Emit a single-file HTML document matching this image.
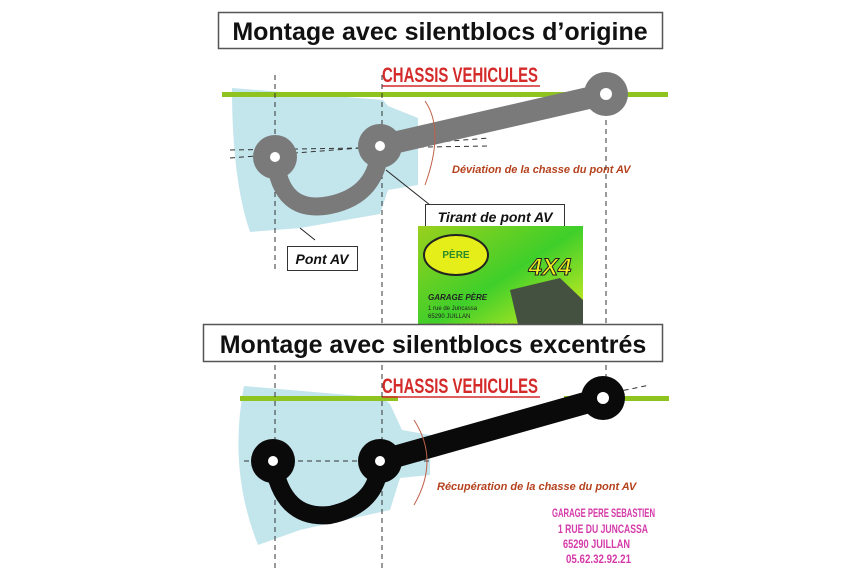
<!DOCTYPE html>
<html><head><meta charset="utf-8"><style>
html,body{margin:0;padding:0;background:#fff}
svg{display:block}
text{font-family:"Liberation Sans",sans-serif}
</style></head><body>
<svg width="860" height="570" viewBox="0 0 860 570" xmlns="http://www.w3.org/2000/svg">
<defs>
<linearGradient id="ad" x1="0" y1="0" x2="1" y2="1">
<stop offset="0" stop-color="#9ad01c"/><stop offset="0.5" stop-color="#3fcf2a"/><stop offset="1" stop-color="#e9f020"/>
</linearGradient>
</defs>
<rect x="218.5" y="12.5" width="444" height="36" fill="#fff" stroke="#555" stroke-width="1.5"/>
<text x="440" y="40" text-anchor="middle" font-size="25" font-weight="bold" fill="#111">Montage avec silentblocs d’origine</text>
<path d="M232 88 L383 100 L388 106 L418 118 L418 185 L388 190 L380 214 L300 228 L250 232 Q232 180 232 88Z" fill="#c3e5ec"/>
<rect x="222" y="92" width="446" height="5" fill="#8fc31f"/>
<text x="460" y="82" text-anchor="middle" font-size="21" font-weight="bold" fill="#d42a2a" textLength="156" lengthAdjust="spacingAndGlyphs">CHASSIS VEHICULES</text>
<line x1="382" y1="86" x2="540" y2="86" stroke="#d42a2a" stroke-width="1.5"/>
<g stroke="#333" stroke-width="1" stroke-dasharray="5,4" fill="none">
<line x1="275" y1="75" x2="275" y2="270"/><line x1="382" y1="75" x2="382" y2="325"/><line x1="606" y1="75" x2="606" y2="325"/>
<line x1="230" y1="150" x2="490" y2="146"/><line x1="230" y1="158" x2="490" y2="138"/>
</g>
<g fill="#7a7a7a">
<line x1="380" y1="146" x2="606" y2="94" stroke="#7a7a7a" stroke-width="22"/>
<path d="M275 157 Q280 215 330 205 Q378 195 380 146" stroke="#7a7a7a" stroke-width="18" fill="none"/>
<circle cx="275" cy="157" r="22"/><circle cx="380" cy="146" r="22"/><circle cx="606" cy="94" r="22"/>
</g>
<g fill="#fff"><circle cx="275" cy="157" r="5"/><circle cx="380" cy="146" r="5"/><circle cx="606" cy="94" r="6"/></g>
<path d="M425 101 Q445 130 425 185" stroke="#c0604a" stroke-width="1" fill="none"/>
<text x="452" y="173" font-size="11" font-style="italic" font-weight="bold" fill="#b5421e">Déviation de la chasse du pont AV</text>
<line x1="386" y1="170" x2="430" y2="205" stroke="#222" stroke-width="1"/>
<rect x="425.5" y="204.5" width="139" height="23" fill="#fff" stroke="#333"/>
<text x="495" y="222" text-anchor="middle" font-size="14" font-style="italic" font-weight="bold" fill="#111">Tirant de pont AV</text>
<line x1="300" y1="228" x2="315" y2="240" stroke="#222"/>
<rect x="287.5" y="246.5" width="70" height="24" fill="#fff" stroke="#333"/>
<text x="322" y="264" text-anchor="middle" font-size="14" font-style="italic" font-weight="bold" fill="#111">Pont AV</text>
<rect x="418" y="226" width="165" height="107" fill="url(#ad)"/>
<ellipse cx="456" cy="255" rx="32" ry="20" fill="#e6ee1a" stroke="#222" stroke-width="2"/>
<text x="456" y="258" text-anchor="middle" font-size="10" font-weight="bold" fill="#2a8a2a">PÈRE</text>
<text x="550" y="275" text-anchor="middle" font-size="24" font-weight="bold" font-style="italic" fill="#f0f020" stroke="#222" stroke-width="1">4X4</text>
<path d="M510 290 L560 278 L583 300 L583 333 L520 333Z" fill="#445040"/>
<text x="428" y="300" font-size="8" font-weight="bold" font-style="italic" fill="#222">GARAGE PÈRE</text>
<text x="428" y="310" font-size="6" fill="#222">1 rue de Juncassa</text>
<text x="428" y="318" font-size="6" fill="#222">65290 JUILLAN</text>
<text x="428" y="328" font-size="6" font-weight="bold" fill="#d4284a">WWW.4X4ACCESSOIRES.COM</text>
<rect x="203.5" y="324.5" width="459" height="37" fill="#fff" stroke="#555" stroke-width="1.5"/>
<text x="433" y="353" text-anchor="middle" font-size="25" font-weight="bold" fill="#111">Montage avec silentblocs excentrés</text>
<path d="M244 386 L383 398 L390 404 L402 430 L430 435 L430 475 L400 478 L390 510 L300 530 L258 545 Q228 470 244 386Z" fill="#c3e5ec"/>
<rect x="240" y="396" width="158" height="5" fill="#8fc31f"/>
<rect x="564" y="396" width="105" height="5" fill="#8fc31f"/>
<text x="460" y="393" text-anchor="middle" font-size="21" font-weight="bold" fill="#d42a2a" textLength="156" lengthAdjust="spacingAndGlyphs">CHASSIS VEHICULES</text>
<line x1="382" y1="397" x2="540" y2="397" stroke="#d42a2a" stroke-width="1.5"/>
<g stroke="#333" stroke-width="1" stroke-dasharray="5,4" fill="none">
<line x1="275" y1="365" x2="275" y2="570"/><line x1="382" y1="365" x2="382" y2="570"/><line x1="606" y1="365" x2="606" y2="410"/>
<line x1="244" y1="461" x2="430" y2="461"/><line x1="606" y1="394" x2="650" y2="385"/>
</g>
<g fill="#0a0a0a">
<line x1="380" y1="461" x2="603" y2="398" stroke="#0a0a0a" stroke-width="22"/>
<path d="M273 461 Q282 520 330 515 Q378 505 380 461" stroke="#0a0a0a" stroke-width="18" fill="none"/>
<circle cx="273" cy="461" r="22"/><circle cx="380" cy="461" r="22"/><circle cx="603" cy="398" r="22"/>
</g>
<g fill="#fff"><circle cx="273" cy="461" r="5"/><circle cx="380" cy="461" r="5"/><circle cx="603" cy="398" r="6"/></g>
<path d="M414 420 Q440 460 414 505" stroke="#c0604a" stroke-width="1" fill="none"/>
<text x="437" y="490" font-size="11" font-style="italic" font-weight="bold" fill="#b5421e">Récupération de la chasse du pont AV</text>
<g font-size="12" font-weight="bold" fill="#d43aa8" lengthAdjust="spacingAndGlyphs">
<text x="552" y="517" textLength="103" lengthAdjust="spacingAndGlyphs">GARAGE PERE SEBASTIEN</text>
<text x="558" y="533" textLength="90" lengthAdjust="spacingAndGlyphs">1 RUE DU JUNCASSA</text>
<text x="563" y="548" textLength="67" lengthAdjust="spacingAndGlyphs">65290 JUILLAN</text>
<text x="566" y="563" textLength="65" lengthAdjust="spacingAndGlyphs">05.62.32.92.21</text>
</g>
</svg>
</body></html>
